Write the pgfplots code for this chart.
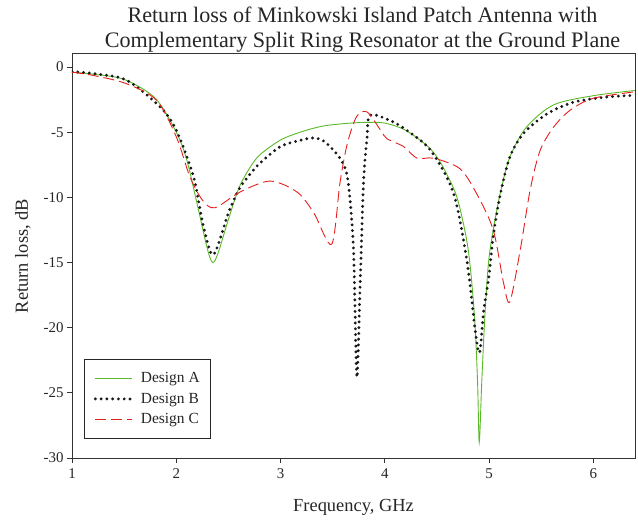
\documentclass[border=0pt]{standalone}
\usepackage{pgfplots}
\pgfplotsset{compat=1.18}
\usepackage{fontspec}
\setmainfont{Liberation Serif}
\definecolor{cgreen}{RGB}{90,185,40}
\definecolor{cred}{RGB}{230,30,30}
\begin{document}
\begin{tikzpicture}[x=1bp,y=1bp]
\path[use as bounding box] (-72,-63) rectangle (566,458);
\begin{axis}[
  at={(0,0)}, anchor=south west,
  scale only axis,
  width=563bp, height=404bp,
  xmin=1, xmax=6.4, ymin=-30, ymax=1,
  xtick={1,2,3,4,5,6}, ytick={-30,-25,-20,-15,-10,-5,0},
  tick align=outside, tick pos=left,
  major tick length=5bp,
  axis line style={line width=1pt, draw=black!80},
  tick style={line width=0.8pt, black!80},
  /pgf/number format/assume math mode=true,
  ticklabel style={font=\fontsize{15}{17}\selectfont, text=black!85},
  xticklabel style={yshift=-2bp},
  xlabel={Frequency, GHz}, ylabel={Return loss, dB},
  label style={font=\fontsize{18.5}{21}\selectfont, text=black!85},
  xlabel style={yshift=-14bp},
  ylabel style={yshift=6bp},
  title style={font=\fontsize{22.2}{24.5}\selectfont, align=center, at={(0.5,1)}, anchor=south, inner sep=0pt, xshift=9bp, yshift=-4bp, text=black!85},
  title={Return loss of Minkowski Island Patch Antenna with\\Complementary Split Ring Resonator at the Ground Plane},
  legend style={at={(0.022,0.245)}, anchor=north west, font=\fontsize{15.5}{17}\selectfont, draw=black!85, line width=0.7pt, inner xsep=9bp, inner ysep=11bp, row sep=5bp, text=black!85,
    /tikz/every odd column/.append style={column sep=5bp}},
  legend cell align=left,
  legend image code/.code={\draw[#1] (0bp,0bp) -- (37bp,0bp);},
]
\addplot[cgreen, line width=0.9pt, smooth, tension=0.5] coordinates {
(1.0,-0.40) (1.2,-0.55) (1.5,-0.95) (1.8,-2.4) (2.0,-5.0) (2.1,-7.1) (2.2,-10.5) (2.3,-14.0) (2.35,-15.0) (2.4,-14.3) (2.5,-11.7) (2.6,-9.3) (2.7,-7.8) (2.8,-6.75) (3.0,-5.6) (3.2,-4.97) (3.4,-4.54) (3.6,-4.35) (3.8,-4.25) (4.0,-4.3) (4.2,-4.85) (4.4,-6.0) (4.5,-6.9) (4.6,-8.3) (4.7,-10.2) (4.8,-14.0) (4.86,-19.1) (4.89,-24.2) (4.906,-28.8) (4.93,-24.2) (4.96,-19.1) (4.995,-15.0) (5.04,-12.5) (5.107,-9.7) (5.2,-6.9) (5.36,-4.6) (5.62,-2.9) (6.0,-2.2) (6.4,-1.8)
};
\addlegendentry{Design A}
\addplot[black!90, line width=3.2pt, dash pattern=on 0pt off 5.8pt, line cap=round, smooth, tension=0.5] coordinates {
(1.0,-0.35) (1.2,-0.5) (1.52,-1.0) (1.845,-3.06) (2.0,-4.85) (2.165,-8.4) (2.26,-12.2) (2.356,-14.4) (2.5,-11.2) (2.6,-9.4) (2.7,-8.3) (2.8,-7.4) (3.0,-6.1) (3.2,-5.6) (3.3,-5.45) (3.4,-5.6) (3.51,-6.4) (3.6,-7.4) (3.65,-8.9) (3.70,-14.0) (3.732,-23.8) (3.764,-16.6) (3.796,-8.9) (3.83,-5.4) (3.86,-3.7) (4.05,-4.1) (4.21,-4.85) (4.44,-6.4) (4.66,-9.7) (4.79,-15.0) (4.87,-20.4) (4.91,-21.9) (4.95,-18.6) (5.0,-16.0) (5.04,-13.0) (5.11,-9.7) (5.2,-6.9) (5.33,-5.1) (5.555,-3.6) (5.81,-2.7) (6.13,-2.3) (6.4,-2.17)
};
\addlegendentry{Design B}
\addplot[cred, line width=0.9pt, dash pattern=on 11pt off 5pt, smooth, tension=0.5] coordinates {
(1.0,-0.40) (1.2,-0.64) (1.52,-1.27) (1.81,-2.55) (2.0,-5.35) (2.13,-8.4) (2.25,-10.2) (2.37,-10.8) (2.61,-9.6) (2.9,-8.75) (3.16,-9.6) (3.32,-11.2) (3.49,-13.6) (3.57,-8.9) (3.64,-5.9) (3.73,-3.8) (3.83,-3.45) (3.96,-4.85) (4.02,-5.5) (4.18,-6.1) (4.31,-7.0) (4.47,-7.0) (4.72,-7.8) (4.88,-9.7) (5.04,-12.5) (5.14,-16.6) (5.2,-18.0) (5.3,-14.0) (5.395,-9.4) (5.49,-6.4) (5.62,-4.6) (5.78,-3.3) (6.0,-2.4) (6.4,-1.9)
};
\addlegendentry{Design C}
\end{axis}
\end{tikzpicture}
\end{document}
